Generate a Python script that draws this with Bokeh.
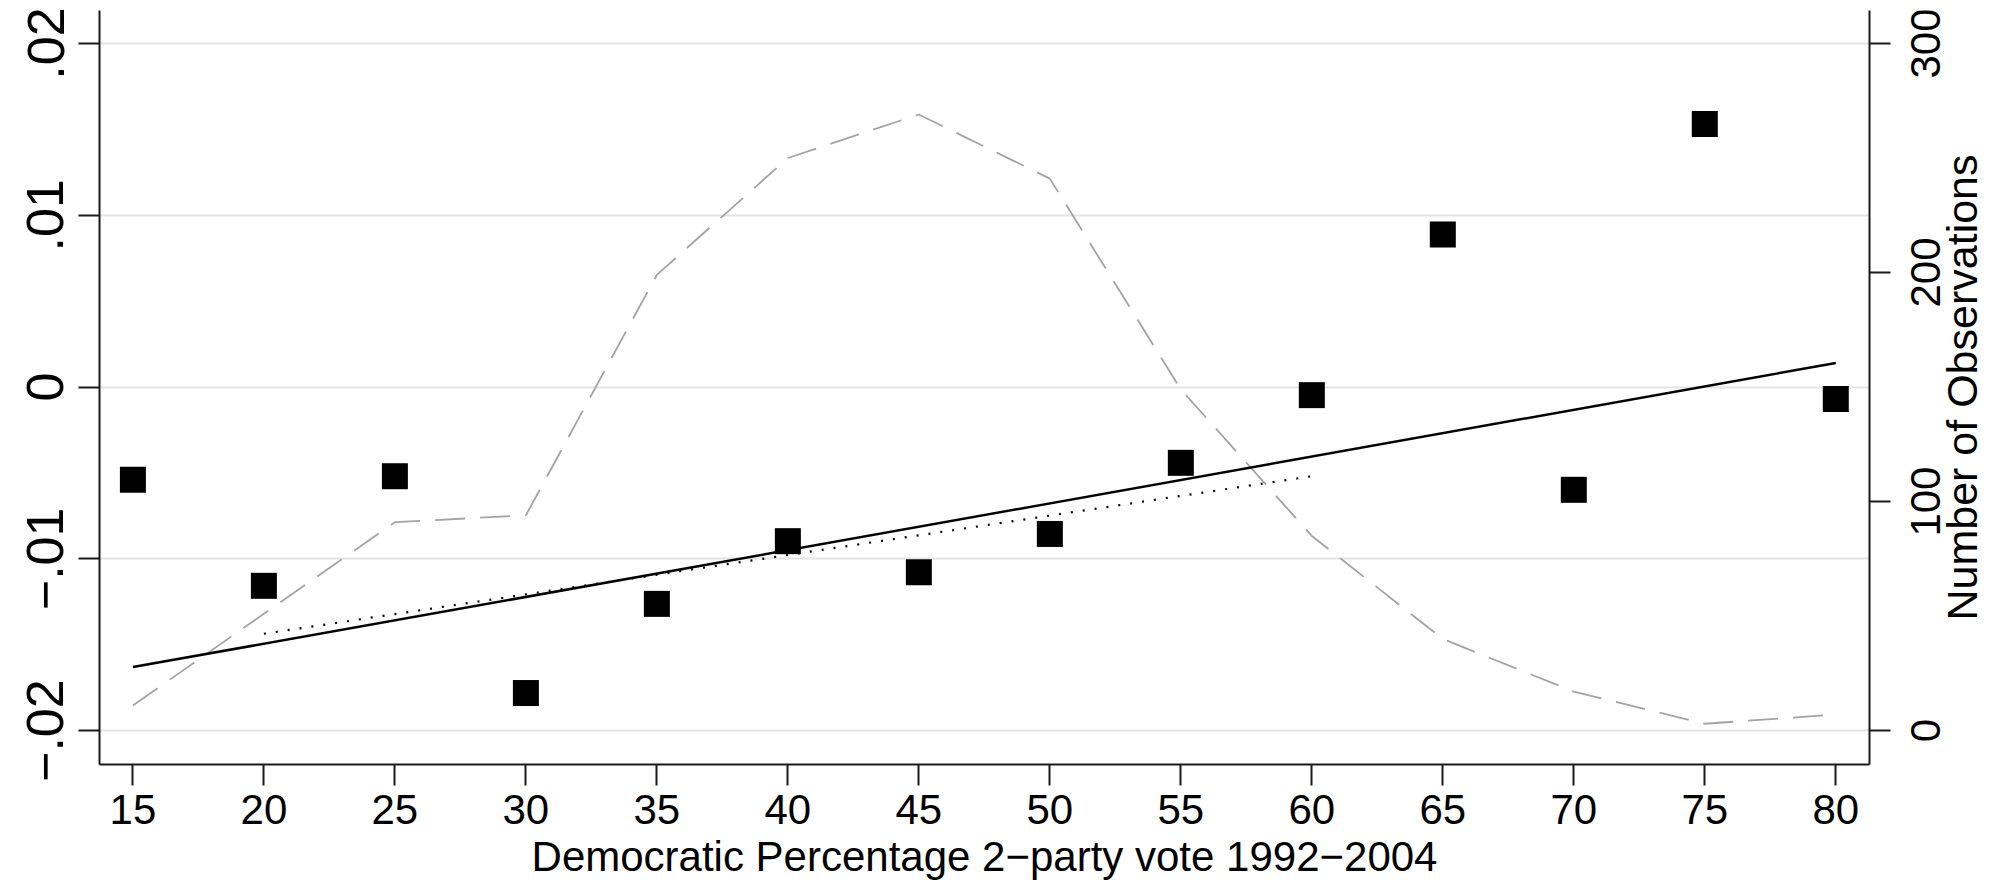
import math
from bokeh.plotting import figure
from bokeh.layouts import row
from bokeh.models import Range1d, LinearAxis, FixedTicker, Label
from bokeh.core.properties import value
from bokeh.embed import file_html
from bokeh.resources import INLINE

# ---- data ----
vote_share = [15, 20, 25, 30, 35, 40, 45, 50, 55, 60, 65, 70, 75, 80]
effect = [-0.00539, -0.01157, -0.00519, -0.01781, -0.01262, -0.00897, -0.01078,
          -0.00855, -0.00441, -0.00047, 0.00888, -0.00598, 0.01532, -0.00070]
n_obs = [11, 51, 91, 94, 199, 250, 269, 241, 149, 85, 40, 17, 3, 7]
fit_all_x = [15, 80]
fit_all_y = [-0.0163, 0.0014]
fit_mid_x = [20, 60]
fit_mid_y = [-0.01436, -0.00519]

x_ticks = [15, 20, 25, 30, 35, 40, 45, 50, 55, 60, 65, 70, 75, 80]
y_ticks = [-0.02, -0.01, 0, 0.01, 0.02]
y_tick_labels = ["\u2212.02", "\u2212.01", "0", ".01", ".02"]
obs_ticks = [0, 100, 200, 300]
obs_tick_labels = ["0", "100", "200", "300"]
x_title = "Democratic Percentage 2\u2212party vote 1992\u22122004"
obs_title = "Number of Observations"

# ---- layout constants ----
X0, X1 = 13.725, 81.287
Y0, Y1 = -0.02197, 0.02192
O0, O1 = -14.8, 314.4
H = 885
FRAME_L, FRAME_T, FRAME_B = 99, 10, 121
MAIN_W = 1893
RIGHT_W = 2007 - MAIN_W

FONT = "Liberation Sans"
AXIS_COLOR = "#1a1a1a"

obs_range = Range1d(O0, O1)

p = figure(width=MAIN_W, height=H, output_backend="svg", toolbar_location=None,
           x_range=Range1d(X0, X1), y_range=Range1d(Y0, Y1),
           min_border_left=FRAME_L, min_border_right=24, min_border_top=FRAME_T,
           min_border_bottom=FRAME_B)
p.extra_y_ranges = {"obs": obs_range}
p.outline_line_color = None
p.background_fill_color = "white"
p.border_fill_color = "white"

# grid
p.xgrid.visible = False
p.ygrid.ticker = FixedTicker(ticks=y_ticks)
p.ygrid.grid_line_color = "#e4e4e4"
p.ygrid.grid_line_width = 2

# bottom axis
xa = p.xaxis[0]
xa.ticker = FixedTicker(ticks=x_ticks)

# left axis
ya = p.yaxis[0]
ya.ticker = FixedTicker(ticks=y_ticks)
ya.major_label_overrides = {t: l for t, l in zip(y_ticks, y_tick_labels)}
ya.major_label_orientation = "vertical"

# right axis (its labels are drawn in the strip beside it)
ra = LinearAxis(y_range_name="obs", ticker=FixedTicker(ticks=obs_ticks))
ra.major_label_overrides = {t: "" for t in obs_ticks}
p.add_layout(ra, "right")

for ax in (xa, ya, ra):
    ax.axis_line_color = AXIS_COLOR
    ax.axis_line_width = 2
    ax.major_tick_line_color = AXIS_COLOR
    ax.major_tick_line_width = 2
    ax.major_tick_out = 21
    ax.major_tick_in = 0
    ax.minor_tick_line_color = None
    ax.major_label_text_font = FONT
    ax.major_label_text_color = "black"

xa.major_label_text_font_size = "42px"
xa.major_label_standoff = 9
ya.major_label_text_font_size = "52px"
ya.major_label_standoff = 15
ra.major_label_standoff = 0

# x-axis title, placed in the panel below the axis
p.add_layout(Label(x=(X0 + X1) / 2, y=Y0, y_offset=-92, text=x_title,
                   text_align="center", text_baseline="alphabetic",
                   text_font=FONT, text_font_size="42px", text_color="black"),
             "below")

# glyphs
p.line(vote_share, n_obs, y_range_name="obs", line_color="#a3a3a3",
       line_width=1.8, line_dash="30 15")
p.line(fit_mid_x, fit_mid_y, line_color="black", line_width=2.2, line_dash="2 10")
p.line(fit_all_x, fit_all_y, line_color="black", line_width=2.5)
p.scatter(vote_share, effect, marker="square", size=26, fill_color="black",
          line_color=None)

# ---- right strip: rotated tick labels + title of the observations axis ----
rs = figure(width=RIGHT_W, height=H, output_backend="svg", toolbar_location=None,
            x_range=Range1d(0, RIGHT_W), y_range=obs_range,
            min_border_left=0, min_border_right=0,
            min_border_top=FRAME_T, min_border_bottom=FRAME_B,
            x_axis_location=None, y_axis_location=None)
rs.grid.visible = False
rs.outline_line_color = None
rs.border_fill_color = "white"
rs.background_fill_color = "white"
rs.text(x=[0] * len(obs_ticks), y=obs_ticks, text=obs_tick_labels,
        x_offset=1925 - MAIN_W,
        angle=math.pi / 2, text_align="center", text_baseline="alphabetic",
        text_font=value(FONT), text_font_size="42px", text_color="black")
rs.text(x=[0], y=[(O0 + O1) / 2], text=[obs_title], x_offset=1961 - MAIN_W,
        angle=math.pi / 2, text_align="center", text_baseline="alphabetic",
        text_font=value(FONT), text_font_size="43px", text_color="black")

layout = row(p, rs)
open("out.html", "w").write(file_html(layout, INLINE))
